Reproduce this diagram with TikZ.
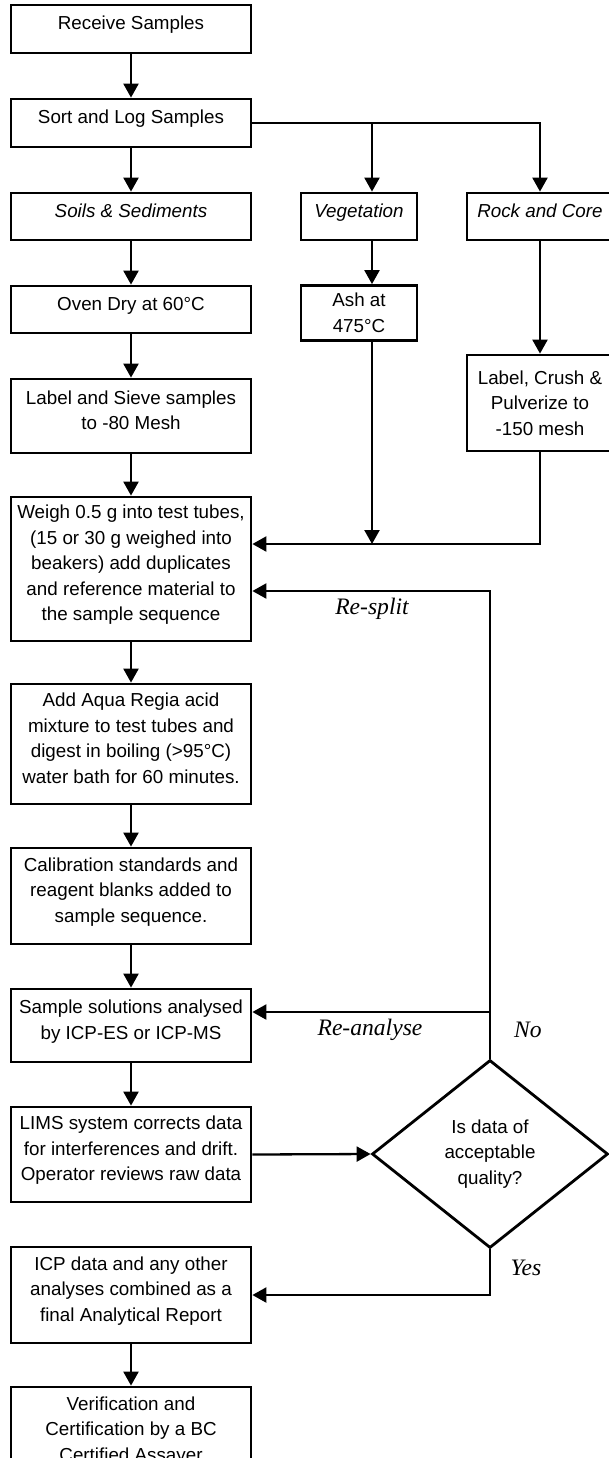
\documentclass[tikz,border=0pt]{standalone}
\usepackage{fontspec}
\setmainfont{Liberation Sans}
\newfontfamily\notefont{Liberation Serif}
\usetikzlibrary{arrows.meta,positioning,shapes.geometric}

\newcommand{\lowstrut}{\rule[-6pt]{0pt}{0pt}}

\begin{document}
\begin{tikzpicture}[
  x=0.5pt, y=-0.5pt,
  font=\fontsize{9.4}{12.75}\selectfont,
  plainbox/.style={draw, line width=1.4pt, align=center, inner sep=0pt, minimum width=120pt},
  stepbox/.style={plainbox, execute at end node=\lowstrut},
  decision/.style={draw, diamond, line width=1.4pt, align=center, inner sep=0pt, minimum width=118pt, minimum height=94pt},
  flow/.style={line width=1.15pt, -{Triangle[length=7pt,width=7.5pt]}},
  note/.style={font=\notefont\itshape\fontsize{11.8}{14}\selectfont}
]
\useasboundingbox (0,0) rectangle (609,1458);
\clip (0,0) rectangle (609,1458);
\fill[white] (0,0) rectangle (609,1458);

% main column
\node[stepbox, minimum height=24pt]   (receive) at (131,29)     {Receive Samples};
\node[stepbox, minimum height=24pt]   (sort)    at (131,123)    {Sort and Log Samples};
\node[stepbox, minimum height=23.5pt] (soils)   at (131,216.5)  {\itshape Soils \& Sediments};
\node[stepbox, minimum height=23.5pt] (oven)    at (131,309.5)  {Oven Dry at 60°C};
\node[stepbox, minimum height=37pt]   (sieve)   at (131,416)    {Label and Sieve samples\\to -80 Mesh};
\node[stepbox, minimum height=72pt]   (weigh)   at (131,569)    {Weigh 0.5 g into test tubes,\\(15 or 30 g weighed into\\beakers) add duplicates\\and reference material to\\the sample sequence};
\node[stepbox, minimum height=60pt]   (aqua)    at (131,744)    {Add Aqua Regia acid\\mixture to test tubes and\\digest in boiling (>95°C)\\water bath for 60 minutes.};
\node[stepbox, minimum height=48pt]   (calib)   at (131,896)    {Calibration standards and\\reagent blanks added to\\sample sequence.};
\node[stepbox, minimum height=36.5pt] (analyse) at (131,1025.5) {Sample solutions analysed\\by ICP-ES or ICP-MS};
\node[stepbox, minimum height=47.5pt] (lims)    at (131,1154.5) {LIMS system corrects data\\for interferences and drift.\\Operator reviews raw data};
\node[stepbox, minimum height=48pt]   (report)  at (131,1295)   {ICP data and any other\\analyses combined as a\\final Analytical Report};
\node[stepbox, minimum height=48pt]   (verify)  at (131,1435)   {Verification and\\Certification by a BC\\Certified Assayer};

% side branches
\node[stepbox, minimum width=58pt, minimum height=23.5pt]  (veg)   at (359,216.5) {\itshape Vegetation};
\node[plainbox, minimum width=58pt, minimum height=27.5pt] (ash)   at (359,313)   {Ash at\\475°C};
\node[stepbox, minimum width=73pt, minimum height=23.5pt]  (rock)  at (540,216.5) {\itshape Rock and Core};
\node[plainbox, minimum width=73pt, minimum height=48pt]   (crush) at (540,403)   {Label, Crush \&\\Pulverize to\\-150 mesh};

\node[decision] (qual) at (490,1154) {Is data of\\acceptable\\quality?};

\coordinate (split)   at (372,123);
\coordinate (join)    at (540,544);
\coordinate (resplit) at (490,591);
\coordinate (redo)    at (490,1012);

\draw[flow] (receive) -- (sort);
\draw[flow] (sort) -- (soils);
\draw[flow] (soils) -- (oven);
\draw[flow] (oven) -- (sieve);
\draw[flow] (sieve) -- (weigh);
\draw[flow] (weigh) -- (aqua);
\draw[flow] (aqua) -- (calib);
\draw[flow] (calib) -- (analyse);
\draw[flow] (analyse) -- (lims);
\draw[flow] (report) -- (verify);

\draw[flow] (sort.east) -| (rock.north);
\draw[flow] (split) -- (split |- veg.north);
\draw[flow] (veg.south -| split) -- (ash.north -| split);
\draw[flow] (ash.south -| split) -- (split |- join);
\draw[flow] (rock) -- (crush);
\draw[flow] (crush.south) |- (weigh.east |- join);

\draw[flow] (lims.east) -- (qual.west);
\draw[flow] (qual.north) |- (weigh.east |- resplit);
\draw[flow] (redo) -- (analyse.east |- redo);
\draw[flow] (qual.south) |- (report.east);

\node[note] (resplitlbl) at (372,609)  {Re-split};
\node[note] (redolbl)    at (370,1030) {Re-analyse};
\node[note] (nolbl)      at (528,1030) {No};
\node[note] (yeslbl)     at (526,1268) {Yes};
\end{tikzpicture}
\end{document}
